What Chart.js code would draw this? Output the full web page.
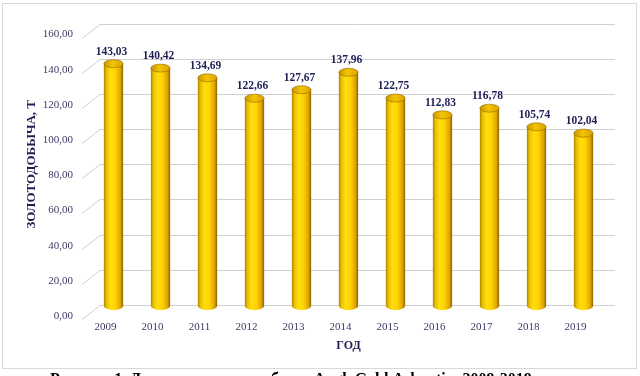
<!DOCTYPE html>
<html>
<head>
<meta charset="utf-8">
<script src="https://cdn.jsdelivr.net/npm/chart.js@4.4.1/dist/chart.umd.min.js"></script>
<style>
  html, body { margin: 0; padding: 0; background: #fff; }
</style>
</head>
<body>
<canvas id="goldChart" width="640" height="376"></canvas>
<script>
// Data
var years = ["2009", "2010", "2011", "2012", "2013", "2014", "2015", "2016", "2017", "2018", "2019"];
var goldOutput = [143.03, 140.42, 134.69, 122.66, 127.67, 137.96, 122.75, 112.83, 116.78, 105.74, 102.04];
var yTicks = [0, 20, 40, 60, 80, 100, 120, 140, 160];

var yTitle = "ЗОЛОТОДОБЫЧА, Т";
var xTitle = "ГОД";
var caption = "Рисунок 1. Динамика золотодобычи AngloGold Ashanti в 2009-2019";

var serif = "'Liberation Serif', 'Times New Roman', serif";
var navy = "#1f1f55";
var barPct = 0.41;

function fmt(v) {
    return Number(v).toFixed(2).replace(".", ",");
}

// Horizontal gradient so the bars look like gold cylinders
function barFill(context) {
    var chart = context.chart;
    var area = chart.chartArea;
    if (!area || !chart.scales.x) return "#f2c200";
    var x = chart.scales.x.getPixelForValue(context.dataIndex);
    var w = (area.width / years.length) * barPct;
    var g = chart.ctx.createLinearGradient(x - w / 2, 0, x + w / 2, 0);
    g.addColorStop(0, "#a88200");
    g.addColorStop(0.12, "#e8bc00");
    g.addColorStop(0.35, "#ffdf10");
    g.addColorStop(0.6, "#ffd200");
    g.addColorStop(0.85, "#e0a600");
    g.addColorStop(1, "#8a6500");
    return g;
}

// Back-wall grid, the 3D floor diagonals, outer frame and caption
var decorPlugin = {
    id: "decor",
    beforeDraw: function (chart) {
        var ctx = chart.ctx;
        var area = chart.chartArea;
        var s = chart.scales.yg;
        ctx.save();
        ctx.fillStyle = "#fff";
        ctx.fillRect(0, 0, chart.width, chart.height);
        ctx.strokeStyle = "#d9d9d9";
        ctx.lineWidth = 1;
        ctx.strokeRect(2.5, 3.5, 634, 365);
        ctx.strokeStyle = "#d0d0d0";
        s.ticks.forEach(function (t) {
            var y = Math.round(s.getPixelForValue(t.value)) + 0.5;
            ctx.beginPath();
            ctx.moveTo(area.left - 8, y + 14);
            ctx.lineTo(area.left + 10, y);
            ctx.lineTo(area.right + 8, y);
            ctx.stroke();
        });
        ctx.restore();
    },
    afterDraw: function (chart) {
        var ctx = chart.ctx;
        ctx.save();
        ctx.fillStyle = "#000";
        ctx.font = "bold 16px " + serif;
        ctx.textAlign = "left";
        ctx.textBaseline = "alphabetic";
        ctx.fillText(caption, 50, 384);
        ctx.restore();
    }
};

// Elliptic caps on top and bottom of each bar, plus the value labels
var cylinderPlugin = {
    id: "cylinders",
    beforeDatasetsDraw: function (chart) {
        var ctx = chart.ctx;
        var meta = chart.getDatasetMeta(0);
        ctx.save();
        meta.data.forEach(function (bar) {
            ctx.beginPath();
            ctx.ellipse(bar.x, bar.base, bar.width / 2, 4, 0, 0, Math.PI * 2);
            ctx.fillStyle = bar.options.backgroundColor;
            ctx.fill();
        });
        ctx.restore();
    },
    afterDatasetsDraw: function (chart) {
        var ctx = chart.ctx;
        var meta = chart.getDatasetMeta(0);
        ctx.save();
        meta.data.forEach(function (bar, i) {
            var r = bar.width / 2;
            var g = ctx.createLinearGradient(bar.x - r, 0, bar.x + r, 0);
            g.addColorStop(0, "#c99500");
            g.addColorStop(0.45, "#f3c400");
            g.addColorStop(1, "#dca200");
            ctx.beginPath();
            ctx.ellipse(bar.x, bar.y, r, 4, 0, 0, Math.PI * 2);
            ctx.fillStyle = g;
            ctx.fill();
            ctx.strokeStyle = "rgba(140,100,0,0.7)";
            ctx.lineWidth = 0.8;
            ctx.stroke();

            ctx.fillStyle = navy;
            ctx.font = "bold 11.5px " + serif;
            ctx.textAlign = "center";
            ctx.textBaseline = "alphabetic";
            ctx.fillText(fmt(goldOutput[i]), bar.x - 2, bar.y - 9);
        });
        ctx.restore();
    }
};

var ctx = document.getElementById("goldChart").getContext("2d");

var goldChart = new Chart(ctx, {
    type: "bar",
    data: {
        labels: years,
        datasets: [{
            data: goldOutput,
            yAxisID: "y",
            base: 0,
            clip: false,
            backgroundColor: barFill,
            borderWidth: 0,
            categoryPercentage: 1,
            barPercentage: barPct
        }]
    },
    options: {
        responsive: false,
        animation: false,
        layout: {
            padding: { left: 18, right: 33, top: 21, bottom: 20 }
        },
        scales: {
            x: {
                grid: { display: false, drawTicks: false },
                border: { display: false },
                ticks: {
                    color: "#3a3a66",
                    font: { family: serif, size: 11 },
                    padding: 16,
                    labelOffset: -8,
                    maxRotation: 0
                },
                title: {
                    display: true,
                    text: xTitle,
                    color: navy,
                    font: { family: serif, size: 12, weight: "bold" },
                    padding: { top: 0, bottom: 3 }
                },
                afterFit: function (scale) { scale.height = 51; }
            },
            // value axis used by the bars (hidden)
            y: {
                display: false,
                min: 0.585,
                max: 166.7
            },
            // axis shown at the left, with the back-wall grid
            yg: {
                position: "left",
                min: 0,
                max: 160,
                afterBuildTicks: function (scale) {
                    scale.ticks = yTicks.map(function (v) { return { value: v }; });
                },
                grid: { display: false, drawTicks: false },
                border: { display: false },
                ticks: {
                    color: "#3a3a66",
                    font: { family: serif, size: 11 },
                    padding: 17,
                    labelOffset: 11,
                    callback: function (v) { return fmt(v); }
                },
                title: {
                    display: true,
                    text: yTitle,
                    color: navy,
                    font: { family: serif, size: 13, weight: "bold" },
                    padding: { top: 6, bottom: 0 }
                },
                afterFit: function (scale) { scale.width = 72; }
            }
        },
        plugins: {
            legend: { display: false },
            tooltip: { enabled: false }
        }
    },
    plugins: [decorPlugin, cylinderPlugin]
});
</script>
</body>
</html>
